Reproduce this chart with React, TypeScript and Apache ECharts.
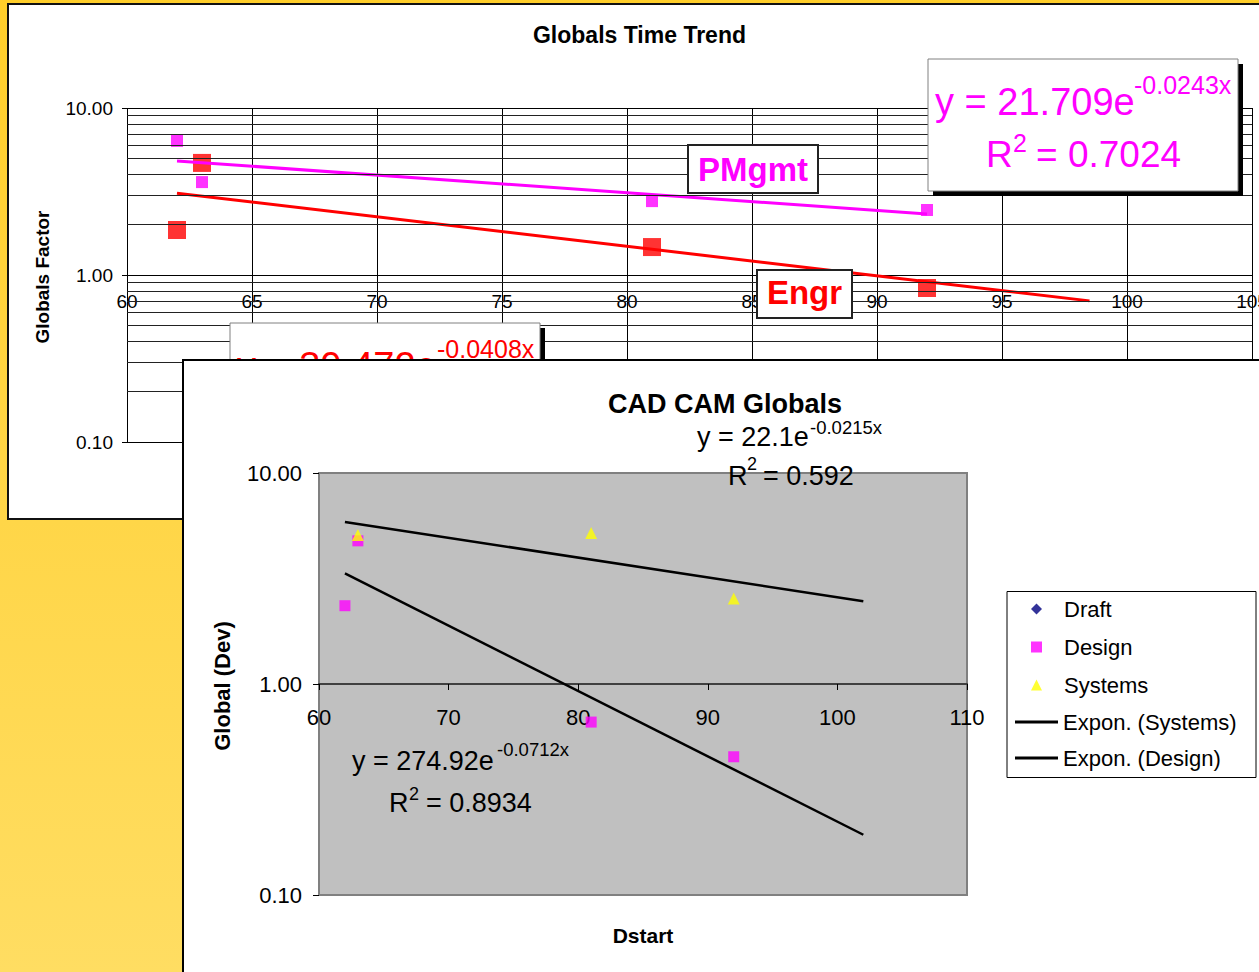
import React, { useEffect, useRef } from "react";
import * as echarts from "echarts";

const FONT = "'Liberation Sans', Arial, Helvetica, sans-serif";

// ---------- Top chart: Globals Time Trend ----------
const TOP_X_MIN = 60;
const TOP_X_MAX = 105;
const TOP_X_STEP = 5;
const PMGMT_X = [62, 63, 81, 92];
const PMGMT_Y = [6.35, 3.6, 2.77, 2.45];
const ENGR_X = [62, 63, 81, 92];
const ENGR_Y = [1.86, 4.69, 1.47, 0.836];
const PMGMT_TREND_X = [62, 92];
const PMGMT_TREND_Y = [4.82, 2.32];
const ENGR_TREND_X = [62, 98.5];
const ENGR_TREND_Y = [3.09, 0.7];
const TOP_MINOR_GRID = [0.2, 0.3, 0.4, 0.5, 0.6, 0.7, 0.8, 0.9, 2, 3, 4, 5, 6, 7, 8, 9];

// ---------- Bottom chart: CAD CAM Globals ----------
const BOT_X_MIN = 60;
const BOT_X_MAX = 110;
const BOT_X_STEP = 10;
const DRAFT_X: number[] = [];
const DRAFT_Y: number[] = [];
const DESIGN_X = [62, 63, 81, 92];
const DESIGN_Y = [2.35, 4.77, 0.66, 0.452];
const SYSTEMS_X = [63, 81, 92];
const SYSTEMS_Y = [5.08, 5.2, 2.54];
const SYS_TREND_X = [62, 102];
const SYS_TREND_Y = [5.86, 2.47];
const DES_TREND_X = [62, 102];
const DES_TREND_Y = [3.34, 0.193];

const zip = (xs: number[], ys: number[]) => xs.map((x, i) => [x, ys[i]]);
const fmt2 = (v: number) => Number(v).toFixed(2);

function txt(
  text: string,
  x: number,
  y: number,
  size: number,
  color: string,
  extra: any = {}
) {
  const { align = "left", weight = "normal", rotation = 0 } = extra;
  return {
    type: "text",
    x,
    y,
    rotation,
    z: 100,
    silent: true,
    style: {
      text,
      fontSize: size,
      fontFamily: FONT,
      fontWeight: weight,
      fill: color,
      align,
      verticalAlign: "middle",
    },
  };
}

// chart A origin on page: (9, 5)
const AX = 9;
const AY = 5;
const topOption: any = {
  animation: false,
  grid: {
    left: 127 - AX,
    top: 108 - AY,
    width: 1125,
    height: 334,
    show: false,
    containLabel: false,
    outerBoundsMode: "none",
  },
  xAxis: {
    type: "value",
    min: TOP_X_MIN,
    max: TOP_X_MAX,
    interval: TOP_X_STEP,
    offset: -167,
    axisLine: { show: false },
    axisTick: { show: true, length: 4, lineStyle: { color: "#000" } },
    axisLabel: { fontSize: 19, fontFamily: FONT, color: "#000", margin: 17, showMaxLabel: true },
    splitLine: { show: true, lineStyle: { color: "#000", width: 1 } },
  },
  yAxis: {
    type: "log",
    logBase: 10,
    min: 0.1,
    max: 10,
    axisLine: { show: false },
    axisTick: { show: true, length: 5, lineStyle: { color: "#000" } },
    axisLabel: { formatter: fmt2, fontSize: 19, fontFamily: FONT, color: "#000", margin: 14 },
    splitLine: { show: true, lineStyle: { color: "#000", width: 1 } },
  },
  series: [
    {
      type: "scatter",
      name: "minor",
      data: [],
      z: 1,
      silent: true,
      markLine: {
        silent: true,
        symbol: ["none", "none"],
        label: { show: false },
        lineStyle: { color: "#222", width: 1, type: "solid" },
        emphasis: { disabled: true },
        data: TOP_MINOR_GRID.map((v) => ({ yAxis: v })),
      },
    },
    {
      type: "scatter",
      name: "PMgmt",
      data: zip(PMGMT_X, PMGMT_Y),
      symbol: "rect",
      symbolSize: 12,
      itemStyle: { color: "#FF00FF" },
      z: 3,
    },
    {
      type: "scatter",
      name: "Engr",
      data: zip(ENGR_X, ENGR_Y),
      symbol: "rect",
      symbolSize: 18,
      itemStyle: { color: "#FF0000" },
      z: 3,
    },
    {
      type: "line",
      name: "PMgmt trend",
      data: zip(PMGMT_TREND_X, PMGMT_TREND_Y),
      symbol: "none",
      lineStyle: { color: "#FF00FF", width: 3 },
      z: 4,
    },
    {
      type: "line",
      name: "Engr trend",
      data: zip(ENGR_TREND_X, ENGR_TREND_Y),
      symbol: "none",
      lineStyle: { color: "#FF0000", width: 3 },
      z: 4,
    },
  ],
  graphic: [
    txt("Globals Time Trend", 639.5 - AX, 34.7 - AY, 23, "#000", { align: "center", weight: "bold" }),
    txt("Globals Factor", 42 - AX, 277 - AY, 19, "#000", {
      align: "center",
      weight: "bold",
      rotation: Math.PI / 2,
    }),
    // magenta equation box
    { type: "rect", z: 99, silent: true, shape: { x: 933 - AX, y: 64 - AY, width: 310, height: 132 }, style: { fill: "#000" } },
    { type: "rect", z: 99, silent: true, shape: { x: 928 - AX, y: 59 - AY, width: 310, height: 132 }, style: { fill: "#fff", stroke: "#808080", lineWidth: 1 } },
    txt("y = 21.709e", 935 - AX, 102 - AY, 38, "#FF00FF"),
    txt("-0.0243x", 1134 - AX, 85 - AY, 25, "#FF00FF"),
    txt("R", 986 - AX, 154 - AY, 37, "#FF00FF"),
    txt("2", 1013 - AX, 143 - AY, 25, "#FF00FF"),
    txt("= 0.7024", 1036 - AX, 154 - AY, 37, "#FF00FF"),
    // PMgmt label
    { type: "rect", z: 99, silent: true, shape: { x: 688 - AX, y: 145 - AY, width: 130, height: 48 }, style: { fill: "#fff", stroke: "#222", lineWidth: 2 } },
    txt("PMgmt", 753 - AX, 169 - AY, 33, "#FF00FF", { align: "center", weight: "bold" }),
    // Engr label
    { type: "rect", z: 99, silent: true, shape: { x: 757 - AX, y: 270 - AY, width: 95, height: 48 }, style: { fill: "#fff", stroke: "#222", lineWidth: 2 } },
    txt("Engr", 804.5 - AX, 292 - AY, 33, "#FF0000", { align: "center", weight: "bold" }),
    // red equation box (mostly hidden by the second chart)
    { type: "rect", z: 99, silent: true, shape: { x: 235 - AX, y: 328 - AY, width: 310, height: 132 }, style: { fill: "#000" } },
    { type: "rect", z: 99, silent: true, shape: { x: 230 - AX, y: 323 - AY, width: 310, height: 132 }, style: { fill: "#fff", stroke: "#808080", lineWidth: 1 } },
    txt("y = 39.472e", 237 - AX, 366 - AY, 38, "#FF0000"),
    txt("-0.0408x", 437 - AX, 349 - AY, 25, "#FF0000"),
  ],
};

// chart B origin on page: (184, 361)
const BX = 184;
const BY = 361;
const botOption: any = {
  animation: false,
  grid: {
    left: 319 - BX,
    top: 473 - BY,
    width: 648,
    height: 422,
    show: true,
    backgroundColor: "#C0C0C0",
    borderColor: "#808080",
    borderWidth: 2,
    containLabel: false,
    outerBoundsMode: "none",
  },
  xAxis: {
    type: "value",
    min: BOT_X_MIN,
    max: BOT_X_MAX,
    interval: BOT_X_STEP,
    offset: -211,
    axisLine: { show: true, lineStyle: { color: "#404040", width: 2 } },
    axisTick: { show: true, length: 6, lineStyle: { color: "#000" } },
    axisLabel: { fontSize: 22, fontFamily: FONT, color: "#000", margin: 22 },
    splitLine: { show: false },
  },
  yAxis: {
    type: "log",
    logBase: 10,
    min: 0.1,
    max: 10,
    axisLine: { show: false },
    axisTick: { show: true, length: 6, lineStyle: { color: "#000" } },
    axisLabel: { formatter: fmt2, fontSize: 22, fontFamily: FONT, color: "#000", margin: 17 },
    splitLine: { show: false },
  },
  legend: [
    {
      orient: "vertical",
      left: 1031 - BX,
      top: 598 - BY,
      padding: 0,
      itemWidth: 11,
      itemHeight: 11,
      itemGap: 16,
      selectedMode: false,
      data: ["Draft", "Design", "Systems"],
      textStyle: { fontSize: 22, lineHeight: 22, fontFamily: FONT, color: "#000", padding: [0, 0, 0, 17] },
    },
    {
      orient: "vertical",
      left: 1015 - BX,
      top: 711 - BY,
      padding: 0,
      itemWidth: 43,
      itemHeight: 3,
      itemGap: 14,
      icon: "rect",
      selectedMode: false,
      data: ["Expon. (Systems)", "Expon. (Design)"],
      textStyle: { fontSize: 22, lineHeight: 22, fontFamily: FONT, color: "#000" },
    },
  ],
  series: [
    {
      type: "scatter",
      name: "Draft",
      data: zip(DRAFT_X, DRAFT_Y),
      symbol: "diamond",
      symbolSize: 10,
      itemStyle: { color: "#000080" },
      z: 3,
    },
    {
      type: "scatter",
      name: "Design",
      data: zip(DESIGN_X, DESIGN_Y),
      symbol: "rect",
      symbolSize: 11,
      itemStyle: { color: "#FF00FF" },
      z: 3,
    },
    {
      type: "scatter",
      name: "Systems",
      data: zip(SYSTEMS_X, SYSTEMS_Y),
      symbol: "triangle",
      symbolSize: 12,
      itemStyle: { color: "#FFFF00" },
      z: 3,
    },
    {
      type: "line",
      name: "Expon. (Systems)",
      data: zip(SYS_TREND_X, SYS_TREND_Y),
      symbol: "none",
      itemStyle: { color: "#000" },
      lineStyle: { color: "#000", width: 2.5 },
      z: 4,
    },
    {
      type: "line",
      name: "Expon. (Design)",
      data: zip(DES_TREND_X, DES_TREND_Y),
      symbol: "none",
      itemStyle: { color: "#000" },
      lineStyle: { color: "#000", width: 2.5 },
      z: 4,
    },
  ],
  graphic: [
    { type: "rect", z: 3, silent: true, shape: { x: 1007 - BX, y: 591.5 - BY, width: 249, height: 186 }, style: { fill: "#fff", stroke: "#000", lineWidth: 1 } },
    txt("CAD CAM Globals", 725 - BX, 404 - BY, 27, "#000", { align: "center", weight: "bold" }),
    txt("y = 22.1e", 697 - BX, 437 - BY, 27, "#000"),
    txt("-0.0215x", 810 - BX, 427 - BY, 18.5, "#000"),
    txt("R", 728 - BX, 476 - BY, 27, "#000"),
    txt("2", 747 - BX, 464 - BY, 18, "#000"),
    txt("= 0.592", 763 - BX, 476 - BY, 27, "#000"),
    txt("y = 274.92e", 352 - BX, 761 - BY, 27, "#000"),
    txt("-0.0712x", 497 - BX, 749 - BY, 18.5, "#000"),
    txt("R", 389 - BX, 803 - BY, 27, "#000"),
    txt("2", 409 - BX, 794 - BY, 18, "#000"),
    txt("= 0.8934", 426 - BX, 803 - BY, 27, "#000"),
    txt("Global (Dev)", 222 - BX, 686 - BY, 22, "#000", {
      align: "center",
      weight: "bold",
      rotation: Math.PI / 2,
    }),
    txt("Dstart", 643 - BX, 935 - BY, 21, "#000", { align: "center", weight: "bold" }),
  ],
};

function EChart({ option, style }: { option: any; style: React.CSSProperties }) {
  const ref = useRef<HTMLDivElement>(null);
  useEffect(() => {
    if (!ref.current) return;
    const chart = echarts.init(ref.current, undefined, { renderer: "svg" });
    chart.setOption(option);
    return () => chart.dispose();
  }, [option]);
  return <div ref={ref} style={style} />;
}

export default function App() {
  return (
    <div
      style={{
        position: "absolute",
        left: 0,
        top: 0,
        width: 1259,
        height: 972,
        overflow: "hidden",
        background: "linear-gradient(#FFCE2A, #FFDD62)",
      }}
    >
      <div
        style={{
          position: "absolute",
          left: 7,
          top: 3,
          width: 1270,
          height: 517,
          boxSizing: "border-box",
          borderTop: "2px solid #111",
          borderLeft: "2px solid #111",
          borderBottom: "2px solid #111",
          background: "#fff",
        }}
      >
        <EChart option={topOption} style={{ position: "absolute", left: 0, top: 0, width: 1250, height: 513 }} />
      </div>
      <div
        style={{
          position: "absolute",
          left: 182,
          top: 359,
          width: 1100,
          height: 700,
          boxSizing: "border-box",
          borderTop: "2px solid #000",
          borderLeft: "2px solid #000",
          background: "#fff",
        }}
      >
        <EChart option={botOption} style={{ position: "absolute", left: 0, top: 0, width: 1075, height: 611 }} />
      </div>
    </div>
  );
}
